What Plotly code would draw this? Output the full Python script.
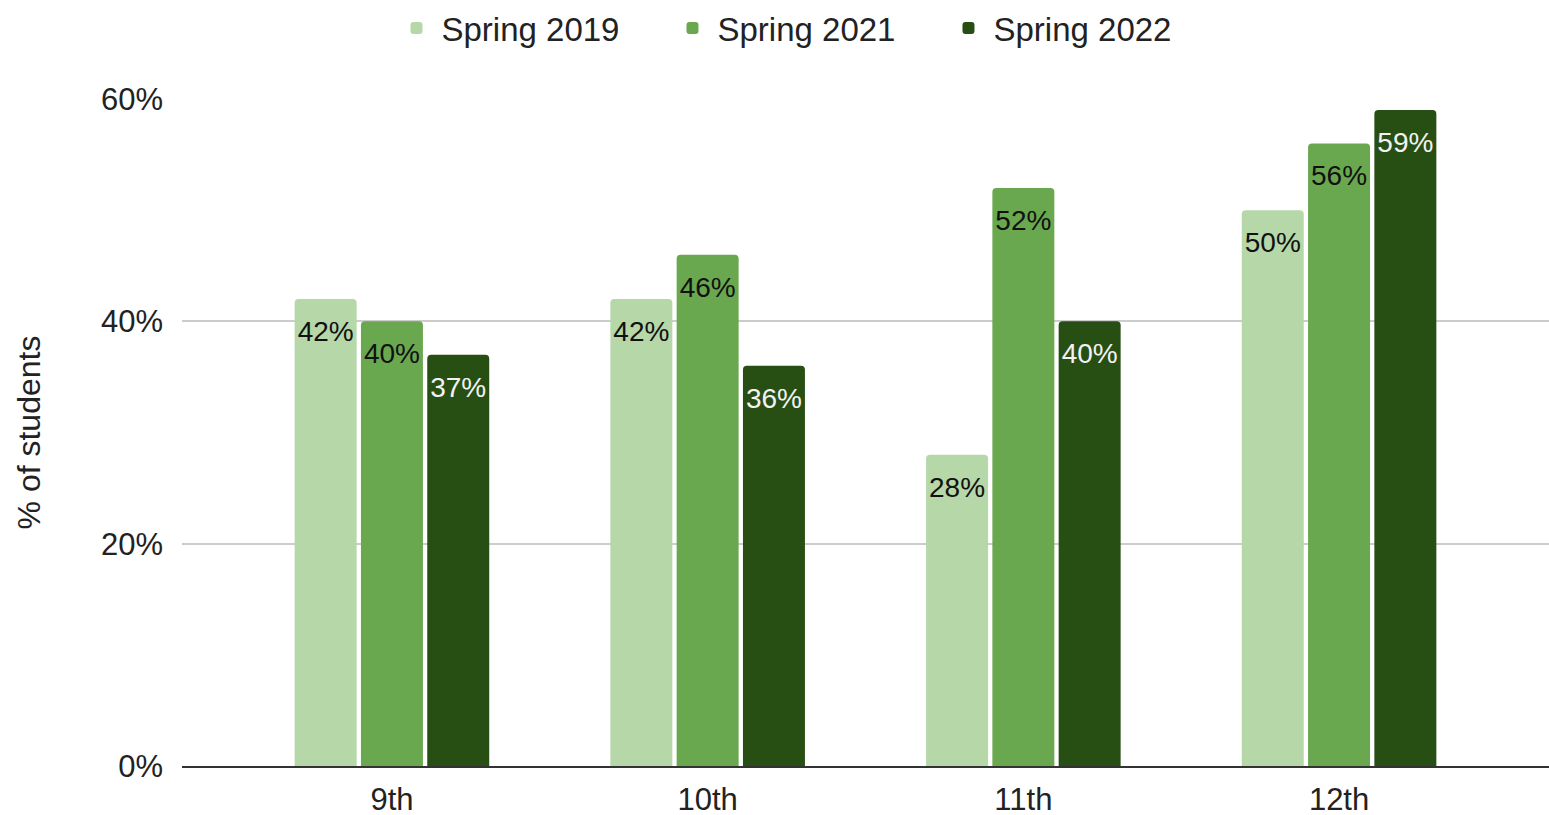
import plotly.graph_objects as go

# chart data
grades = ["9th", "10th", "11th", "12th"]
series_names = ["Spring 2019", "Spring 2021", "Spring 2022"]
spring_2019 = [0.42, 0.42, 0.28, 0.50]
spring_2021 = [0.40, 0.46, 0.52, 0.56]
spring_2022 = [0.37, 0.36, 0.40, 0.59]
y_ticks = [0, 0.2, 0.4, 0.6]

colors = ["#b6d7a8", "#6aa84f", "#274e13"]
label_colors = ["#111111", "#111111", "#f2f2f2"]
FONT = "Liberation Sans, Arial, sans-serif"


def add_series(fig, name, values, color, label_color, idx):
    fig.add_trace(go.Bar(
        x=grades, y=values, name=name,
        marker=dict(color=color, line=dict(width=0)),
        offsetgroup=str(idx),
        hoverinfo="skip",
    ))
    # value labels, grouped like the bars, hanging just under each bar top
    fig.add_trace(go.Scatter(
        x=grades, y=values,
        mode="markers+text",
        marker=dict(size=32, color="rgba(0,0,0,0)"),
        text=[f"{v:.0%}" for v in values],
        textposition="bottom center",
        textfont=dict(size=28, color=label_color, family=FONT),
        offsetgroup=str(idx),
        showlegend=False,
        hoverinfo="skip",
        cliponaxis=False,
    ))


fig = go.Figure()
for i, (name, vals) in enumerate(zip(series_names, [spring_2019, spring_2021, spring_2022])):
    add_series(fig, name, vals, colors[i], label_colors[i], i)

fig.update_layout(
    template="none",
    width=1549, height=815,
    margin=dict(l=182, r=0, t=99, b=49),
    paper_bgcolor="white", plot_bgcolor="white",
    font=dict(family=FONT, color="#222222"),
    barmode="group", bargap=0.37, bargroupgap=0.065,
    barcornerradius=4,
    scattermode="group",
    legend=dict(
        orientation="h", xref="container", yref="container",
        x=0.520, xanchor="center", y=1.0, yanchor="top",
        font=dict(size=33, color="#222222"),
        entrywidth=221, itemwidth=40,
    ),
    xaxis=dict(
        type="category", range=[-0.665, 3.665],
        showline=True, linecolor="#333333", linewidth=2,
        showgrid=False, ticks="",
        tickfont=dict(size=31, color="#222222"),
        ticklabelstandoff=5,
    ),
    yaxis=dict(
        range=[0, 0.6], tickvals=y_ticks, tickformat=".0%",
        showgrid=True, gridcolor="#cccccc", gridwidth=2,
        zeroline=False, showline=False, ticks="",
        tickfont=dict(size=31, color="#222222"),
        ticklabelstandoff=18,
        title=dict(text="% of students", font=dict(size=32, color="#222222"), standoff=50),
    ),
)

# drop the default page margin so the figure fills the window exactly
fig.write_html("out.html", config={"displayModeBar": False},
               post_script="document.body.style.margin='0';")
